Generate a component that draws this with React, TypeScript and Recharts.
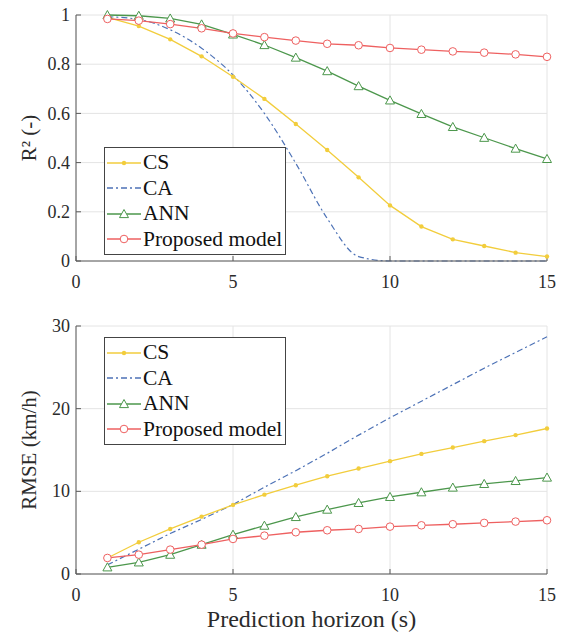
import { LineChart, Line, XAxis, YAxis, CartesianGrid, Label } from 'recharts'

const horizons = [1, 2, 3, 4, 5, 6, 7, 8, 9, 10, 11, 12, 13, 14, 15]
const xTicks = [0, 5, 10, 15]

const r2CS = [0.99, 0.955, 0.901, 0.832, 0.749, 0.659, 0.557, 0.451, 0.34, 0.226, 0.14, 0.088, 0.061, 0.034, 0.018]
const r2CA = [0.993, 0.982, 0.94, 0.865, 0.756, 0.6, 0.397, 0.173, 0.018, 0, 0, 0, 0, 0, 0]
const r2ANN = [1.0, 0.997, 0.986, 0.962, 0.921, 0.878, 0.827, 0.772, 0.711, 0.653, 0.598, 0.545, 0.501, 0.457, 0.415]
const r2Prop = [0.984, 0.977, 0.963, 0.946, 0.925, 0.91, 0.896, 0.883, 0.877, 0.866, 0.859, 0.852, 0.847, 0.84, 0.83]
const r2Ticks = [0, 0.2, 0.4, 0.6, 0.8, 1]

const rmseCS = [1.94, 3.84, 5.45, 6.94, 8.36, 9.6, 10.74, 11.83, 12.76, 13.65, 14.53, 15.3, 16.07, 16.8, 17.6]
const rmseCA = [1.1, 3.0, 4.9, 6.6, 8.4, 10.5, 12.5, 14.6, 16.8, 18.9, 20.9, 22.9, 24.9, 26.8, 28.7]
const rmseANN = [0.81, 1.41, 2.34, 3.55, 4.76, 5.85, 6.9, 7.79, 8.6, 9.33, 9.89, 10.46, 10.9, 11.26, 11.67]
const rmseProp = [1.94, 2.34, 2.95, 3.55, 4.24, 4.64, 5.05, 5.29, 5.45, 5.73, 5.89, 6.02, 6.18, 6.34, 6.5]
const rmseTicks = [0, 10, 20, 30]

const FONT = "Liberation Serif, Times New Roman, serif"
const C_CS = '#f2cd3c'
const C_CA = '#4d72b6'
const C_ANN = '#4c974c'
const C_PROP = '#ee6060'
const AXIS = '#5a5a5a'
const TEXT = '#2b2b2b'

const legendItems = [
  { name: 'CS', color: C_CS, marker: 'dot', dash: undefined },
  { name: 'CA', color: C_CA, marker: 'none', dash: '6 3 2 3' },
  { name: 'ANN', color: C_ANN, marker: 'tri', dash: undefined },
  { name: 'Proposed model', color: C_PROP, marker: 'circle', dash: undefined },
]

function buildRows(cs: number[], ca: number[], ann: number[], prop: number[]) {
  return horizons.map((h, i) => ({ h, cs: cs[i], ca: ca[i], ann: ann[i], prop: prop[i] }))
}

const r2Rows = buildRows(r2CS, r2CA, r2ANN, r2Prop)
const rmseRows = buildRows(rmseCS, rmseCA, rmseANN, rmseProp)

type TickProps = { x?: number; y?: number; payload?: { value: number } }

// ticks drawn by hand so the serif font actually sticks
function XTick({ x, y, payload }: TickProps) {
  return (
    <text x={x} y={y} dy="0.71em" textAnchor="middle" fontFamily={FONT} fontSize={18} fill={TEXT}>
      {payload?.value}
    </text>
  )
}

function YTick({ x, y, payload }: TickProps) {
  return (
    <text x={x} y={y} dy="0.34em" textAnchor="end" fontFamily={FONT} fontSize={18} fill={TEXT}>
      {payload?.value}
    </text>
  )
}

function Triangle({ cx, cy, color }: { cx?: number; cy?: number; color: string }) {
  if (cx == null || cy == null) return null
  const s = 4.5
  return (
    <polygon
      points={`${cx},${cy - s} ${cx - s},${cy + s * 0.8} ${cx + s},${cy + s * 0.8}`}
      fill="#fff"
      stroke={color}
      strokeWidth={1}
    />
  )
}

function Marker({ kind, color, x, y }: { kind: string; color: string; x: number; y: number }) {
  if (kind === 'dot') return <circle cx={x} cy={y} r={2.2} fill={color} />
  if (kind === 'circle') return <circle cx={x} cy={y} r={3.8} fill="#fff" stroke={color} strokeWidth={1} />
  if (kind === 'tri') return <Triangle cx={x} cy={y} color={color} />
  return null
}

function LegendBox({ top }: { top: number }) {
  return (
    <div
      style={{
        position: 'absolute',
        left: 104,
        top,
        width: 180,
        border: '1px solid #444',
        background: '#fff',
        padding: '2px 0 2px 0',
        fontFamily: FONT,
        fontSize: 21.5,
        color: '#111',
        lineHeight: '25.5px',
      }}
    >
      {legendItems.map((it) => (
        <div key={it.name} style={{ display: 'flex', alignItems: 'center', height: 25.5 }}>
          <svg width={38} height={14} style={{ flex: 'none' }}>
            <line x1={2} y1={7} x2={36} y2={7} stroke={it.color} strokeWidth={1.3} strokeDasharray={it.dash} />
            <Marker kind={it.marker} color={it.color} x={19} y={7} />
          </svg>
          <span style={{ whiteSpace: 'nowrap' }}>{it.name}</span>
        </div>
      ))}
    </div>
  )
}

interface PanelProps {
  rows: ReturnType<typeof buildRows>
  yTicks: number[]
  yLabel: string
  height: number
  marginTop: number
  xAxisHeight: number
  xLabel?: string
  ca: 'monotone' | 'linear'
}

function Panel({ rows, yTicks, yLabel, height, marginTop, xAxisHeight, xLabel, ca }: PanelProps) {
  const yMax = yTicks[yTicks.length - 1]
  return (
    <LineChart
      width={563}
      height={height}
      data={rows}
      margin={{ top: marginTop, right: 16, left: 0, bottom: 0 }}
      style={{ fontFamily: FONT }}
    >
      <CartesianGrid stroke="#e4e4e4" strokeWidth={1} />
      <XAxis
        dataKey="h"
        type="number"
        domain={[0, 15]}
        ticks={xTicks}
        height={xAxisHeight}
        stroke={AXIS}
        tickSize={-5}
        tickMargin={19}
        tick={<XTick />}
        interval={0}
      >
        {xLabel && (
          <Label
            value={xLabel}
            position="insideBottom"
            offset={8}
            fontFamily={FONT}
            style={{ fontFamily: FONT, fontSize: 24, fill: TEXT }}
          />
        )}
      </XAxis>
      <XAxis
        xAxisId="top"
        dataKey="h"
        type="number"
        orientation="top"
        domain={[0, 15]}
        ticks={xTicks}
        height={0}
        stroke={AXIS}
        tickSize={-5}
        tick={() => <g />}
      />
      <YAxis
        type="number"
        domain={[0, yMax]}
        ticks={yTicks}
        width={76}
        stroke={AXIS}
        tickSize={-5}
        tickMargin={11}
        tick={<YTick />}
        interval={0}
      >
        <Label
          value={yLabel}
          angle={-90}
          position="insideLeft"
          offset={29}
          fontFamily={FONT}
          style={{ fontFamily: FONT, fontSize: 21, fill: TEXT, textAnchor: 'middle' }}
        />
      </YAxis>
      <YAxis
        yAxisId="right"
        type="number"
        orientation="right"
        domain={[0, yMax]}
        ticks={yTicks}
        width={0}
        stroke={AXIS}
        tickSize={-5}
        tick={() => <g />}
      />
      <Line
        dataKey="ca"
        type={ca}
        stroke={C_CA}
        strokeWidth={1.2}
        strokeDasharray="6 3 2 3"
        dot={false}
        isAnimationActive={false}
      />
      <Line
        dataKey="cs"
        type="linear"
        stroke={C_CS}
        strokeWidth={1.3}
        dot={{ r: 2.2, fill: C_CS, stroke: C_CS, strokeWidth: 0 }}
        isAnimationActive={false}
      />
      <Line
        dataKey="ann"
        type="linear"
        stroke={C_ANN}
        strokeWidth={1.3}
        dot={(p: { cx?: number; cy?: number; index?: number }) => (
          <Triangle key={`tri-${p.index}`} cx={p.cx} cy={p.cy} color={C_ANN} />
        )}
        isAnimationActive={false}
      />
      <Line
        dataKey="prop"
        type="linear"
        stroke={C_PROP}
        strokeWidth={1.3}
        dot={{ r: 3.8, fill: '#fff', stroke: C_PROP, strokeWidth: 1 }}
        isAnimationActive={false}
      />
    </LineChart>
  )
}

export default function App() {
  return (
    <div
      style={{
        position: 'absolute',
        left: 0,
        top: 0,
        width: 563,
        height: 635,
        background: '#fff',
        fontFamily: FONT,
      }}
    >
      <div style={{ position: 'absolute', left: 0, top: 0 }}>
        <Panel rows={r2Rows} yTicks={r2Ticks} yLabel="R² (-)" height={300} marginTop={15} xAxisHeight={39} ca="monotone" />
      </div>
      <div style={{ position: 'absolute', left: 0, top: 300 }}>
        <Panel
          rows={rmseRows}
          yTicks={rmseTicks}
          yLabel="RMSE (km/h)"
          height={335}
          marginTop={26}
          xAxisHeight={61}
          xLabel="Prediction horizon (s)"
          ca="linear"
        />
      </div>
      <LegendBox top={147} />
      <LegendBox top={337} />
    </div>
  )
}
